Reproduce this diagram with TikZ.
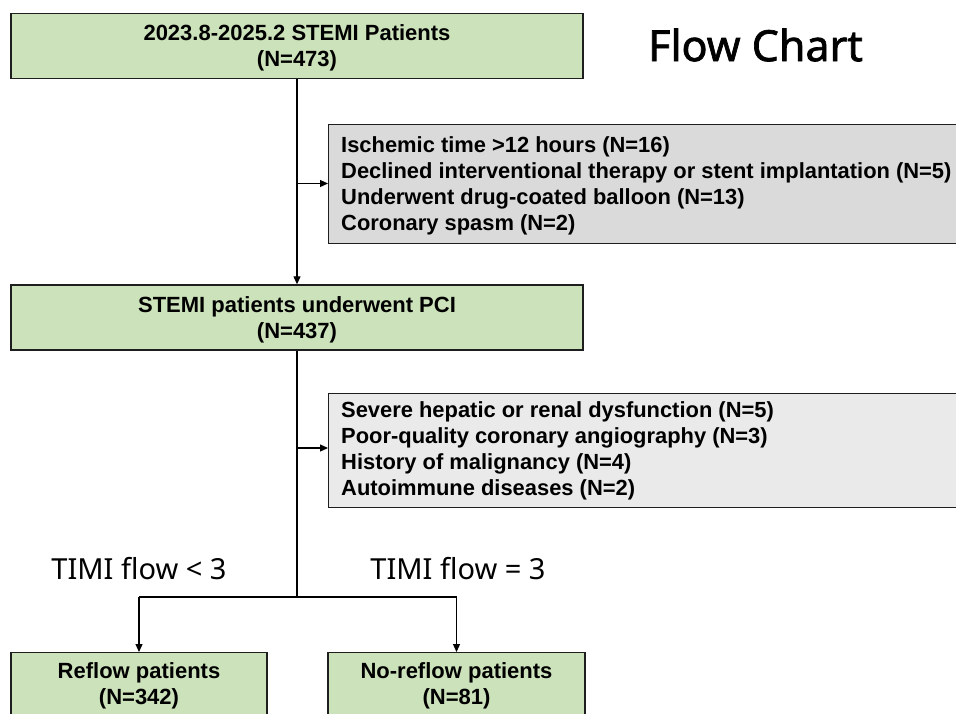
\documentclass[tikz,border=0pt]{standalone}
\usepackage{fontspec}
\setmainfont{Liberation Sans}
\newfontfamily\titlefont{Noto Sans}
\newfontfamily\titlebold{Noto Sans}[FakeBold=1.6]
\usetikzlibrary{arrows.meta}

\definecolor{boxgreen}{HTML}{CCE2BA}
\definecolor{boxgrayA}{HTML}{DADADA}
\definecolor{boxgrayB}{HTML}{EAEAEA}
\definecolor{edge}{HTML}{1E1E1E}

\tikzset{
  greenbox/.style={draw=edge, line width=1.4pt, fill=boxgreen, rectangle, inner sep=0pt},
  boxtext/.style={font=\fontsize{22}{26}\selectfont\bfseries, align=center, inner sep=0pt},
  exclbox/.style={draw=edge, line width=1.4pt, rectangle, anchor=north west,
    minimum width=660pt, inner sep=0pt},
  excltext/.style={anchor=west, font=\fontsize{21.9}{26}\selectfont\bfseries,
    align=left, inner sep=0pt},
  flowline/.style={line width=1.2pt, draw=black},
  flowarrow/.style={flowline, -{Triangle[length=8pt,width=7pt]}},
  branchlabel/.style={font=\titlefont\fontsize{29}{32}\selectfont, inner sep=0pt},
}

\begin{document}
\begin{tikzpicture}[x=1pt, y=-1pt]
\useasboundingbox (0,0) rectangle (956,713);
\begin{scope}
\clip (0,0) rectangle (956,713);

% main stages
\node[greenbox, minimum width=572pt, minimum height=65pt] (all) at (297,46) {};
\node[boxtext] (alltxt) at (297,48) {2023.8-2025.2 STEMI Patients\\(N=473)};
\node[greenbox, minimum width=572pt, minimum height=65pt] (pci) at (297,317.5) {};
\node[boxtext] (pcitxt) at (297,319.5) {STEMI patients underwent PCI\\(N=437)};

% exclusion boxes
\node[exclbox, fill=boxgrayA, minimum height=119pt] (ex1) at (328,124) {};
\node[excltext] (ex1txt) at (341,185.5)
  {Ischemic time >12 hours (N=16)\\
   Declined interventional therapy or stent implantation (N=5)\\
   Underwent drug-coated balloon (N=13)\\
   Coronary spasm (N=2)};
\node[exclbox, fill=boxgrayB, minimum height=114pt] (ex2) at (328,393) {};
\node[excltext] (ex2txt) at (341,451)
  {Severe hepatic or renal dysfunction (N=5)\\
   Poor-quality coronary angiography (N=3)\\
   History of malignancy (N=4)\\
   Autoimmune diseases (N=2)};

% outcome groups
\node[greenbox, minimum width=256pt, minimum height=90pt, anchor=north] (reflow) at (139,652) {};
\node[boxtext] (reflowtxt) at (139,686) {Reflow patients\\(N=342)};
\node[greenbox, minimum width=257pt, minimum height=90pt, anchor=north] (noreflow) at (456.5,652) {};
\node[boxtext] (noreflowtxt) at (456.5,686) {No-reflow patients\\(N=81)};
\end{scope}

% connectors
\coordinate (j1) at (297,183.5);
\coordinate (j2) at (297,448);
\coordinate (split) at (297,597);
\draw[flowarrow] (all.south) -- (pci.north);
\draw[flowarrow] (j1) -- (ex1.west |- j1);
\draw[flowline] (pci.south) -- (split);
\draw[flowarrow] (j2) -- (ex2.west |- j2);
\draw[flowline] (split) -- (split -| reflow.north);
\draw[flowline] (split) -- (split -| noreflow.north);
\draw[flowarrow] (split -| reflow.north) -- (reflow.north);
\draw[flowarrow] (split -| noreflow.north) -- (noreflow.north);

% branch labels
\node[branchlabel] (lt3) at (139,569) {TIMI flow < 3};
\node[branchlabel] (eq3) at (458,569) {TIMI flow = 3};

% title
\node[font=\titlebold\fontsize{43}{46}\selectfont, inner sep=0pt] (title) at (755.5,45) {Flow Chart};
\end{tikzpicture}
\end{document}
